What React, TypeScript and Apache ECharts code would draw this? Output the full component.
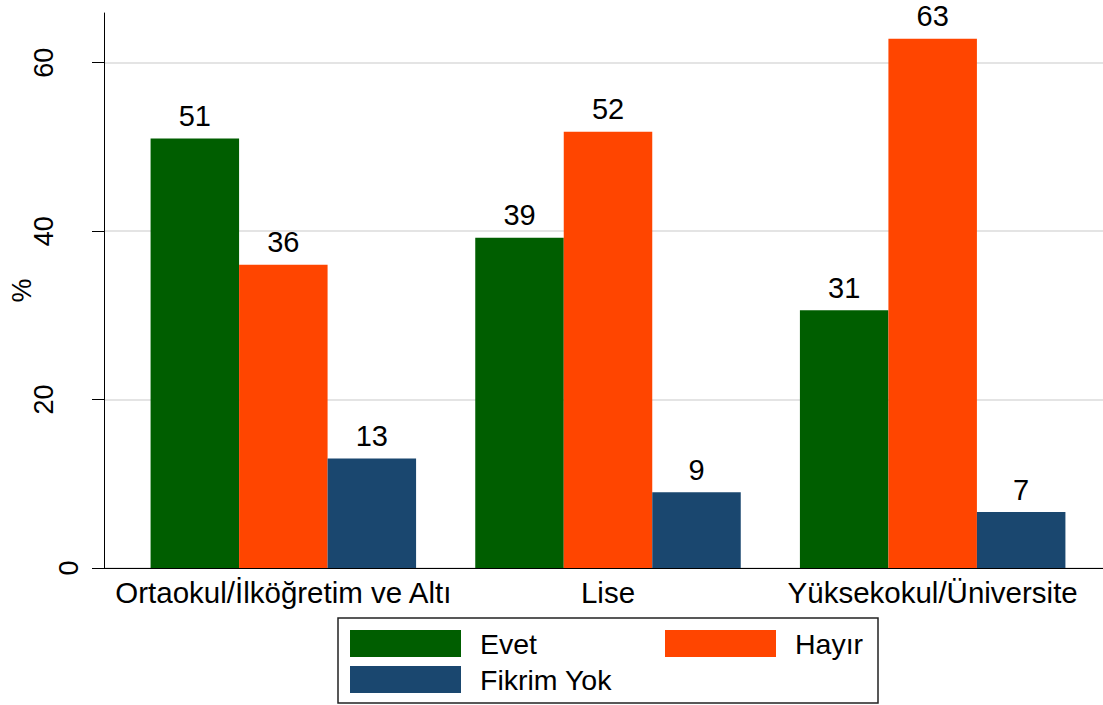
import React, { useEffect, useRef } from "react";
import * as echarts from "echarts";

const categories = ["Ortaokul/İlköğretim ve Altı", "Lise", "Yüksekokul/Üniversite"];
const evet = [51.0, 39.2, 30.6];
const hayir = [36.0, 51.8, 62.85];
const fikrimYok = [13.0, 9.0, 6.64];
const yTicks = [0, 20, 40, 60];

const FONT = "Liberation Sans, Arial, sans-serif";

export default function App() {
  const ref = useRef<HTMLDivElement>(null);
  useEffect(() => {
    if (!ref.current) return;
    const chart = echarts.init(ref.current, undefined, { renderer: "svg" });
    const label = {
      show: true,
      position: "top",
      distance: 8,
      fontSize: 29,
      fontFamily: FONT,
      color: "#000",
      formatter: (p: any) => String(Math.round(p.value)),
    };
    const legendCommon = {
      orient: "vertical",
      top: 629,
      padding: 0,
      itemWidth: 111,
      itemHeight: 27,
      itemGap: 7,
      icon: "rect",
      selectedMode: false,
      textStyle: { fontSize: 28.5, fontFamily: FONT, color: "#000", padding: [0, 0, 0, 14] },
    };
    chart.setOption({
      animation: false,
      backgroundColor: "#fff",
      textStyle: { fontFamily: FONT },
      grid: [
        { left: 104, right: 0, top: 13, bottom: 137, containLabel: false, outerBoundsMode: "none" },
        { left: 121, right: 8, top: 13, bottom: 137, containLabel: false, outerBoundsMode: "none" },
      ],
      xAxis: [
        {
          type: "value",
          gridIndex: 0,
          min: 0,
          max: 1,
          axisLine: { show: true, lineStyle: { color: "#000", width: 1 } },
          axisTick: { show: false },
          axisLabel: { show: false },
          splitLine: { show: false },
        },
        {
          type: "category",
          gridIndex: 1,
          data: categories,
          axisLine: { show: false },
          axisTick: { show: false },
          axisLabel: { fontSize: 29.5, fontFamily: FONT, color: "#000", margin: 9, interval: 0 },
        },
      ],
      yAxis: [
        {
          type: "value",
          gridIndex: 0,
          min: 0,
          max: 65.9,
          interval: 20,
          name: "%",
          nameLocation: "middle",
          nameRotate: 90,
          nameGap: 69,
          nameMoveOverlap: false,
          nameTextStyle: { fontSize: 27, fontFamily: FONT, color: "#000" },
          axisLine: { show: true, lineStyle: { color: "#000", width: 1 } },
          axisTick: { show: true, length: 12, customValues: yTicks, lineStyle: { color: "#000", width: 1 } },
          axisLabel: {
            customValues: yTicks,
            rotate: 90,
            margin: 22,
            fontSize: 27,
            fontFamily: FONT,
            color: "#000",
            formatter: (v: number) => (v === 0 ? "{z|0}" : yTicks.includes(v) ? `{n|${v}}` : ""),
            rich: {
              z: { fontSize: 27, fontFamily: FONT, color: "#000" },
              n: { fontSize: 27, fontFamily: FONT, color: "#000", padding: [0, 0, 25, 0] },
            },
          },
          splitLine: {
            show: true,
            lineStyle: { color: ["#e4e4e4", "#e4e4e4", "#e4e4e4", "#e4e4e4", "transparent"], width: 2 },
          },
        },
        {
          type: "value",
          gridIndex: 1,
          min: 0,
          max: 65.9,
          show: false,
          splitLine: { show: false },
        },
      ],
      legend: [
        { ...legendCommon, left: 350, data: ["Evet", "Fikrim Yok"] },
        { ...legendCommon, left: 665, data: ["Hayır"] },
      ],
      graphic: [
        {
          type: "rect",
          shape: { x: 338, y: 618, width: 540, height: 85 },
          style: { fill: "none", stroke: "#222", lineWidth: 1.5 },
          z: -1,
        },
      ],
      series: [
        { name: "Evet", type: "bar", xAxisIndex: 1, yAxisIndex: 1, data: evet, barWidth: 88.5, barGap: "0%", itemStyle: { color: "#005e00" }, label },
        { name: "Hayır", type: "bar", xAxisIndex: 1, yAxisIndex: 1, data: hayir, barWidth: 88.5, barGap: "0%", itemStyle: { color: "#ff4500" }, label },
        { name: "Fikrim Yok", type: "bar", xAxisIndex: 1, yAxisIndex: 1, data: fikrimYok, barWidth: 88.5, barGap: "0%", itemStyle: { color: "#1a476f" }, label },
      ],
    });
    return () => chart.dispose();
  }, []);
  return <div ref={ref} style={{ position: "fixed", left: 0, top: 0, width: 1103, height: 705 }} />;
}
